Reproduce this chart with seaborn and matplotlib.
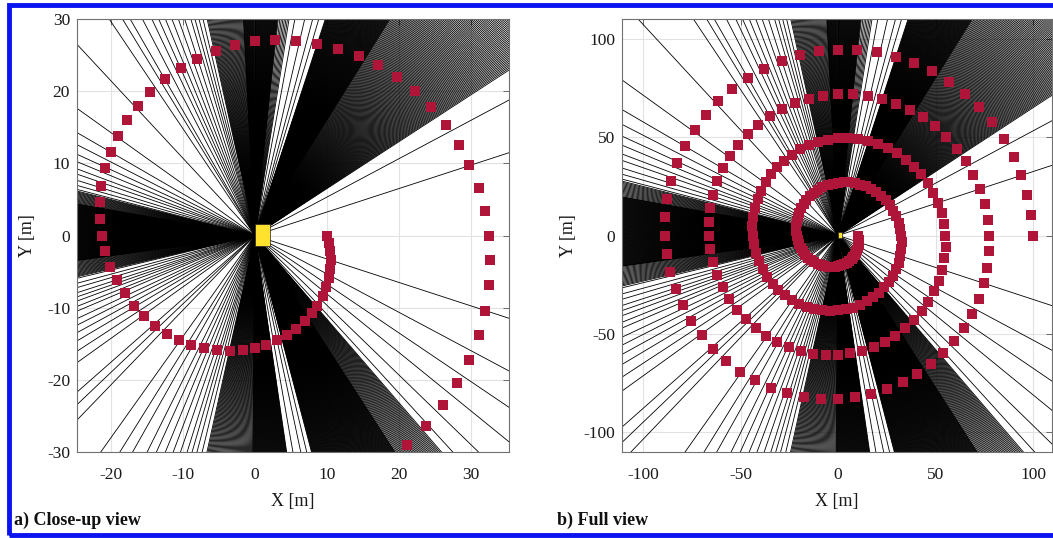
import numpy as np
import pandas as pd
import matplotlib
matplotlib.use("Agg")
import matplotlib.pyplot as plt
from matplotlib.patches import Rectangle
import seaborn as sns

# ---------------------------------------------------------------------------
# Sampled trajectory (red squares), metres
# ---------------------------------------------------------------------------
spiral_x = [
    10.0, 10.3, 10.5, 10.6, 10.5, 10.3, 9.9, 9.4, 8.7, 7.9,
    6.9, 5.7, 4.5, 3.1, 1.6, 0.0, -1.7, -3.4, -5.2, -7.0,
    -8.8, -10.5, -12.2, -13.8, -15.4, -16.8, -18.0, -19.1, -20.1, -20.8,
    -21.2, -21.5, -21.5, -21.3, -20.8, -20.0, -19.0, -17.7, -16.2, -14.5,
    -12.5, -10.3, -8.0, -5.4, -2.8, 0.0, 2.8, 5.7, 8.7, 11.5,
    14.4, 17.1, 19.7, 22.2, 24.5, 26.5, 28.3, 29.8, 31.1, 31.9,
    32.5, 32.7, 32.5, 32.0, 31.1, 29.8, 28.1, 26.1, 23.8, 21.1,
    18.1, 14.9, 11.4, 7.8, 3.9, 0.0, -4.0, -8.1, -12.1, -16.1,
    -20.0, -23.7, -27.3, -30.6, -33.6, -36.3, -38.6, -40.5, -42.1, -43.1,
    -43.8, -43.9, -43.5, -42.7, -41.3, -39.5, -37.2, -34.5, -31.3, -27.7,
    -23.8, -19.5, -14.9, -10.1, -5.1, 0.0, 5.2, 10.4, 15.6, 20.7,
    25.6, 30.3, 34.8, 38.9, 42.7, 46.0, 48.9, 51.2, 53.1, 54.3,
    55.0, 55.1, 54.5, 53.4, 51.6, 49.3, 46.3, 42.8, 38.8, 34.3,
    29.4, 24.0, 18.4, 12.4, 6.3, 0.0, -6.4, -12.8, -19.1, -25.3,
    -31.2, -37.0, -42.3, -47.3, -51.8, -55.7, -59.1, -61.9, -64.1, -65.5,
    -66.2, -66.3, -65.5, -64.1, -61.9, -59.0, -55.4, -51.2, -46.3, -40.9,
    -35.0, -28.6, -21.9, -14.8, -7.5, 0.0, 7.6, 15.1, 22.6, 29.8,
    36.9, 43.6, 49.8, 55.6, 60.9, 65.5, 69.4, 72.6, 75.1, 76.7,
    77.5, 77.4, 76.5, 74.8, 72.2, 68.7, 64.5, 59.5, 53.9, 47.5,
    40.6, 33.2, 25.3, 17.1, 8.6, 0.0, -8.7, -17.4, -26.0, -34.4,
    -42.5, -50.2, -57.4, -64.0, -70.0, -75.2, -79.7, -83.3, -86.1, -87.9,
    -88.7, -88.6, -87.5, -85.5, -82.4, -78.5, -73.6, -67.9, -61.4, -54.2,
    -46.2, -37.8, -28.8, -19.5, -9.8, 0.0, 9.9, 19.8, 29.5, 39.0,
    48.1, 56.8, 64.9, 72.4, 79.1, 85.0, 90.0, 94.0, 97.1, 99.1,
    100.0,
]
spiral_y = [
    0.0, -1.1, -2.2, -3.4, -4.7, -5.9, -7.2, -8.4, -9.7, -10.8,
    -11.9, -12.9, -13.8, -14.5, -15.2, -15.6, -15.9, -16.0, -15.9, -15.6,
    -15.2, -14.5, -13.6, -12.5, -11.2, -9.7, -8.0, -6.2, -4.3, -2.2,
    0.0, 2.3, 4.6, 6.9, 9.3, 11.6, 13.8, 16.0, 18.0, 19.9,
    21.7, 23.2, 24.5, 25.6, 26.4, 26.9, 27.1, 27.0, 26.6, 25.9,
    24.9, 23.6, 21.9, 20.0, 17.8, 15.3, 12.6, 9.7, 6.6, 3.4,
    0.0, -3.4, -6.9, -10.4, -13.8, -17.2, -20.4, -23.5, -26.4, -29.0,
    -31.4, -33.5, -35.2, -36.6, -37.5, -38.1, -38.3, -38.0, -37.3, -36.2,
    -34.6, -32.7, -30.3, -27.5, -24.4, -20.9, -17.2, -13.2, -8.9, -4.5,
    0.0, 4.6, 9.3, 13.9, 18.4, 22.8, 27.0, 31.0, 34.7, 38.1,
    41.1, 43.7, 45.9, 47.6, 48.7, 49.4, 49.5, 49.0, 48.0, 46.5,
    44.4, 41.8, 38.6, 35.0, 31.0, 26.6, 21.8, 16.6, 11.3, 5.7,
    0.0, -5.8, -11.6, -17.3, -23.0, -28.4, -33.7, -38.6, -43.1, -47.2,
    -50.9, -54.0, -56.6, -58.6, -59.9, -60.6, -60.7, -60.0, -58.7, -56.8,
    -54.1, -50.9, -47.0, -42.6, -37.6, -32.2, -26.3, -20.1, -13.6, -6.9,
    0.0, 7.0, 13.9, 20.8, 27.6, 34.1, 40.3, 46.1, 51.5, 56.3,
    60.6, 64.3, 67.3, 69.6, 71.1, 71.9, 71.9, 71.0, 69.4, 67.0,
    63.9, 60.0, 55.4, 50.1, 44.2, 37.8, 30.9, 23.6, 16.0, 8.1,
    0.0, -8.1, -16.3, -24.3, -32.1, -39.7, -46.9, -53.6, -59.8, -65.4,
    -70.4, -74.6, -78.0, -80.6, -82.3, -83.1, -83.0, -82.0, -80.1, -77.3,
    -73.6, -69.1, -63.7, -57.6, -50.8, -43.4, -35.5, -27.1, -18.3, -9.2,
    0.0, 9.3, 18.6, 27.8, 36.7, 45.3, 53.5, 61.1, 68.2, 74.5,
    80.1, 84.8, 88.7, 91.6, 93.5, 94.4, 94.2, 93.0, 90.8, 87.6,
    83.4, 78.2, 72.1, 65.2, 57.5, 49.1, 40.1, 30.6, 20.6, 10.4,
    0.0,
]

# Sensor footprint at the origin (metres)
sensor_x0, sensor_y0 = 0.0, -1.5
sensor_w, sensor_h = 2.1, 3.1

# Isolated rays, bearing in degrees (counter-clockwise from +X)
sparse_ray_deg = [
    18, 28,
    73.5, 75, 77, 79.5,
    103.5, 104.5, 105.5, 106.5, 108, 109.5, 111, 112.5, 114, 115.5,
    117.5, 120, 121.5, 124, 133, 144.5, 150, 153, 155.5, 157.5,
    159.5, 161, 162.8, 164.3, 165.5,
    193.5, 195, 196.3, 197.8, 199, 200.2, 201.7, 203, 205, 206.7,
    208.6, 210.6, 213, 215.5, 221.3, 223.5, 226, 234.5, 238, 240.5,
    243.5, 245.5, 247.5, 249.3, 251, 252.6, 253.8, 255, 256.3,
    -80, -78, -76.5,
    -47.5, -44, -39, -34, -28, -18,
]

# Dense ray fans: (start bearing, end bearing, bearing step), degrees
fan_start = [166, 170, 188, 93, 84, 81, 58, 33, -102.5, -90.5, -75.3, -57]
fan_end = [170, 188, 193.3, 102.5, 93, 84, 72, 58, -90.5, -81.6, -57, -49]
fan_step = [0.28, 0.12, 0.28, 0.27, 0.12, 0.4, 0.12, 0.27, 0.27, 0.12, 0.12, 0.27]

RED = "#AE1539"
YELLOW = "#FFE12E"
RAY_LENGTH = 200.0

sns.set_theme(style="white")
plt.rcParams["font.family"] = ["Liberation Serif", "DejaVu Serif"]
plt.rcParams["axes.unicode_minus"] = False

# Build ray segments (origin -> far point) as one long table
bearings = list(sparse_ray_deg)
for a0, a1, da in zip(fan_start, fan_end, fan_step):
    bearings.extend(np.arange(a0, a1 + 1e-9, da))
theta = np.deg2rad(np.asarray(bearings, dtype=float))
n_rays = theta.size
rays = pd.DataFrame({
    "ray": np.repeat(np.arange(n_rays), 2),
    "x": np.column_stack([np.zeros(n_rays), RAY_LENGTH * np.cos(theta)]).ravel(),
    "y": np.column_stack([np.zeros(n_rays), RAY_LENGTH * np.sin(theta)]).ravel(),
})
track = pd.DataFrame({"x": spiral_x, "y": spiral_y})

W, H = 1053, 538
fig = plt.figure(figsize=(W / 100, H / 100), dpi=100)


def px_axes(left, top, width, height):
    return fig.add_axes([left / W, 1 - (top + height) / H, width / W, height / H])


def draw_panel(ax, xlim, ylim, xticks, yticks, ylabel_x):
    ax.set_axisbelow(True)
    ax.grid(True, color="#e2e2e2", linewidth=0.8)
    sns.lineplot(data=rays, x="x", y="y", units="ray", estimator=None,
                 sort=False, color="black", linewidth=0.6, ax=ax,
                 legend=False)
    ax.add_patch(Rectangle((sensor_x0, sensor_y0), sensor_w, sensor_h,
                           facecolor=YELLOW, edgecolor="#222222",
                           linewidth=0.5, zorder=3))
    sns.scatterplot(data=track, x="x", y="y", marker="s", s=46, color=RED,
                    edgecolor=RED, linewidth=0, ax=ax, zorder=4,
                    legend=False)
    ax.set_xlim(*xlim)
    ax.set_ylim(*ylim)
    ax.set_xticks(xticks)
    ax.set_yticks(yticks)
    ax.tick_params(direction="in", length=4, width=0.6, color="#555555",
                   top=True, right=True, labelsize=12.5,
                   labelcolor="#1a1a1a")
    ax.tick_params(axis="x", pad=11)
    ax.tick_params(axis="y", pad=5)
    for sp in ax.spines.values():
        sp.set_color("#707070")
        sp.set_linewidth(0.8)
    ax.set_xlabel("X [m]", fontsize=13, color="#1a1a1a")
    ax.set_ylabel("Y [m]", fontsize=13, color="#1a1a1a")
    ax.xaxis.set_label_coords(0.5, -0.095)
    ax.yaxis.set_label_coords(ylabel_x, 0.5)


ax_a = px_axes(77, 19, 432, 433)
draw_panel(ax_a, (-24.7, 35.3), (-30, 30), [-20, -10, 0, 10, 20, 30],
           [-30, -20, -10, 0, 10, 20, 30], -0.095)

ax_b = px_axes(622, 19, 430, 433)
draw_panel(ax_b, (-110.8, 109.7), (-110, 110), [-100, -50, 0, 50, 100],
           [-100, -50, 0, 50, 100], -0.105)

fig.text(14 / W, 1 - 520 / H, "a) Close-up view", fontsize=13,
         fontweight="bold", va="center", ha="left", color="#111111")
fig.text(557 / W, 1 - 520 / H, "b) Full view", fontsize=13,
         fontweight="bold", va="center", ha="left", color="#111111")

# Blue frame around the figure (open on the right)
fig.add_artist(Rectangle((8.75 / W, 1 - 534.75 / H), 1.05, (534.75 - 5.25) / H,
                         transform=fig.transFigure, fill=False,
                         edgecolor="#0a14f0", linewidth=3.5, clip_on=False))

fig.savefig("out.png", dpi=100)
